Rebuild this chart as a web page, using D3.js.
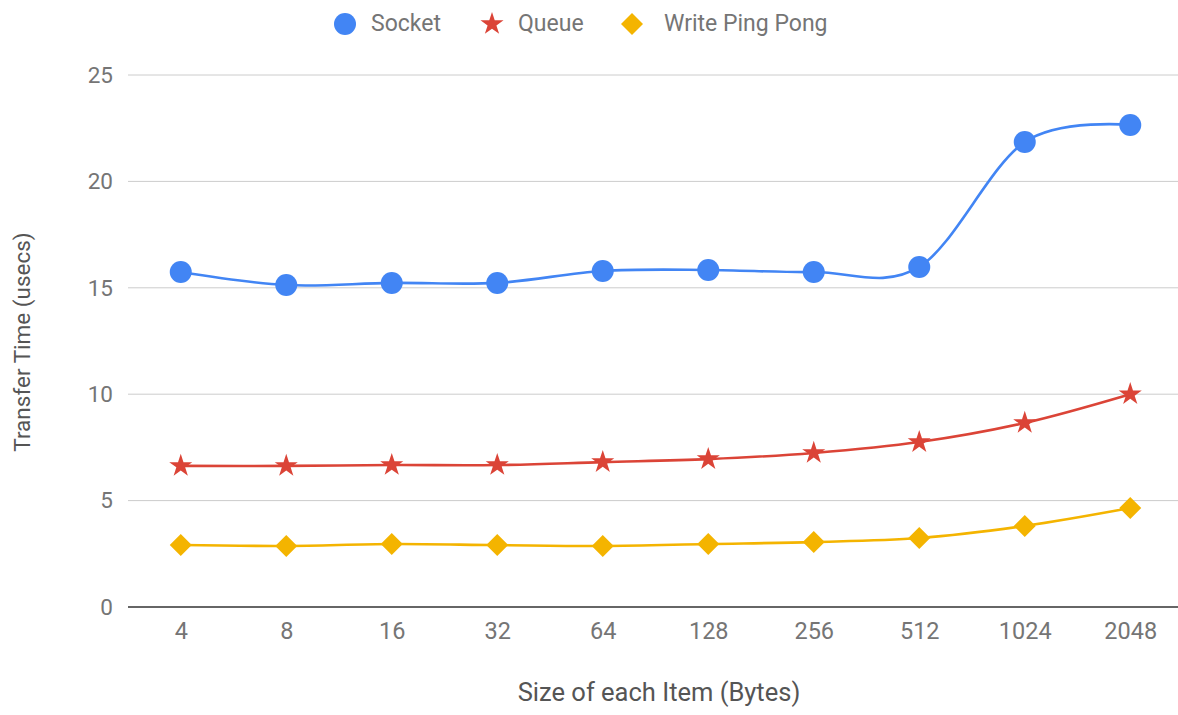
<!DOCTYPE html>
<html>
<head>
<meta charset="utf-8">
<script src="https://cdn.jsdelivr.net/npm/d3@7/dist/d3.min.js"></script>
<style>
  html, body { margin: 0; padding: 0; background: #fff; }
  svg { display: block; font-family: Roboto, "Noto Sans", sans-serif; }
</style>
</head>
<body>
<svg id="chart" width="1178" height="715"></svg>
<script>
// Item sizes in bytes (x categories)
const sizes = ["4", "8", "16", "32", "64", "128", "256", "512", "1024", "2048"];
// Transfer times in microseconds
const socket = [15.74, 15.13, 15.23, 15.23, 15.79, 15.84, 15.74, 15.98, 21.85, 22.65];
const queue = [6.63, 6.63, 6.67, 6.67, 6.81, 6.95, 7.24, 7.75, 8.65, 10.0];
const pingPong = [2.91, 2.87, 2.96, 2.91, 2.87, 2.96, 3.05, 3.24, 3.81, 4.65];
const yTicks = [0, 5, 10, 15, 20, 25];

const series = [
  { name: "Socket", values: socket, color: "#4285F4", shape: "circle" },
  { name: "Queue", values: queue, color: "#DB4437", shape: "star" },
  { name: "Write Ping Pong", values: pingPong, color: "#F4B400", shape: "diamond" }
];

const svg = d3.select("#chart");
const plotLeft = 128, plotRight = 1183, plotTop = 75, plotBottom = 607;

const x = d3.scalePoint().domain(sizes).range([plotLeft, plotRight]).padding(0.5);
const y = d3.scaleLinear().domain([0, 25]).range([plotBottom, plotTop]);

// Horizontal gridlines
svg.append("g")
  .selectAll("line")
  .data(yTicks.filter(t => t !== 0))
  .join("line")
  .attr("x1", plotLeft).attr("x2", 1178)
  .attr("y1", d => y(d)).attr("y2", d => y(d))
  .attr("stroke", "#cccccc").attr("stroke-width", 1);

// Y axis labels
const yAxis = svg.append("g")
  .attr("transform", `translate(${plotLeft},0)`)
  .call(d3.axisLeft(y).tickValues(yTicks).tickSize(0).tickPadding(15));
yAxis.select(".domain").remove();
yAxis.selectAll("text")
  .attr("fill", "#757575").style("font-size", "22.5px")
  .style("font-family", "Roboto, sans-serif");

// Baseline at zero
svg.append("line")
  .attr("x1", plotLeft).attr("x2", 1178)
  .attr("y1", y(0)).attr("y2", y(0))
  .attr("stroke", "#333333").attr("stroke-width", 1.6);

// X axis labels
const xAxis = svg.append("g")
  .attr("transform", `translate(0,${plotBottom})`)
  .call(d3.axisBottom(x).tickSize(0).tickPadding(15));
xAxis.select(".domain").remove();
xAxis.selectAll("text")
  .attr("fill", "#757575").style("font-size", "23.5px")
  .style("font-family", "Roboto, sans-serif");

// Axis titles
svg.append("text")
  .attr("x", 659).attr("y", 701)
  .attr("text-anchor", "middle")
  .attr("fill", "#555").style("font-size", "25.5px")
  .text("Size of each Item (Bytes)");

svg.append("text")
  .attr("transform", "translate(30,342) rotate(-90)")
  .attr("text-anchor", "middle")
  .attr("fill", "#555").style("font-size", "22.5px")
  .text("Transfer Time (usecs)");

// Marker shapes
const starPath = d3.symbol().type(d3.symbolStar).size(165)();
const diamondPath = "M0,-11L11,0L0,11L-11,0Z";

function drawMarker(g, shape, color, r) {
  if (shape === "circle") {
    g.append("circle").attr("r", r).attr("fill", color);
  } else if (shape === "star") {
    g.append("path").attr("d", starPath).attr("fill", color);
  } else {
    g.append("path").attr("d", diamondPath).attr("fill", color);
  }
}

const line = d3.line()
  .x((d, i) => x(sizes[i]))
  .y(d => y(d))
  .curve(d3.curveCatmullRom.alpha(0));

series.forEach(s => {
  const g = svg.append("g");
  g.append("path")
    .datum(s.values)
    .attr("d", line)
    .attr("fill", "none")
    .attr("stroke", s.color)
    .attr("stroke-width", 2.6);
  s.values.forEach((v, i) => {
    const m = g.append("g").attr("transform", `translate(${x(sizes[i])},${y(v)})`);
    drawMarker(m, s.shape, s.color, 11);
  });
});

// Legend
const legendItems = [
  { s: series[0], mx: 345, tx: 371 },
  { s: series[1], mx: 492, tx: 518 },
  { s: series[2], mx: 632, tx: 664 }
];
legendItems.forEach(it => {
  const m = svg.append("g").attr("transform", `translate(${it.mx},24)`);
  drawMarker(m, it.s.shape, it.s.color, 11);
  svg.append("text")
    .attr("x", it.tx).attr("y", 31)
    .attr("fill", "#757575").style("font-size", "23px")
    .text(it.s.name);
});
</script>
</body>
</html>
